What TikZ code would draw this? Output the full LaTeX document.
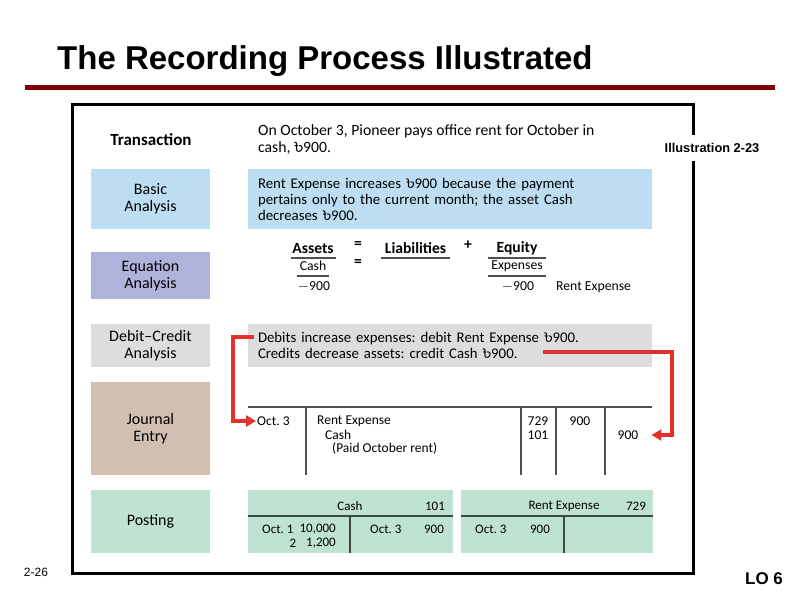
\documentclass[tikz,border=0pt]{standalone}
\usepackage{fontspec}
\setmainfont{Carlito}
\newfontfamily\arialf{Liberation Sans}
\newfontfamily\bnfont[Script=Bengali]{Hind Siliguri}
\newcommand\tk{{\bnfont ৳}}
\usetikzlibrary{arrows.meta}
\definecolor{maroonline}{HTML}{7F0000}
\definecolor{arrred}{HTML}{E4312B}
\definecolor{basicblue}{HTML}{BDDDF3}
\definecolor{eqpurple}{HTML}{AFB3DB}
\definecolor{dcgray}{HTML}{DCDDDE}
\definecolor{jetan}{HTML}{D3BFB2}
\definecolor{postgreen}{HTML}{BFE3D3}
\definecolor{ruleg}{HTML}{505050}
\definecolor{tline}{HTML}{3E4A44}
\frenchspacing
\begin{document}
\begin{tikzpicture}[x=1pt,y=-1pt,
  every node/.style={inner sep=0pt},
  txt/.style={font=\fontsize{15.7}{17}\selectfont},
  sm/.style={font=\fontsize{13.5}{13.5}\selectfont},
  tacc/.style={font=\fontsize{13}{13}\selectfont},
  eqb/.style={font=\fontsize{15.6}{16}\selectfont\bfseries},
  eqn/.style={font=\fontsize{13.7}{16}\selectfont},
  lab/.style={minimum width=119pt, align=center, font=\fontsize{16}{17}\selectfont},
  wide/.style={minimum width=404pt, text width=384pt, align=left, inner xsep=10pt, font=\fontsize{14.8}{16}\selectfont},
  rl/.style={line width=1.4pt, draw=ruleg},
  tl/.style={line width=1.4pt, draw=tline},
  ul/.style={line width=1.3pt, draw=ruleg},
  redarr/.style={draw=arrred, line width=3.5pt, -{Triangle[length=10pt,width=11pt]}},
]
\useasboundingbox (0,0) rectangle (800,600);
\fill[white] (0,0) rectangle (800,600);

% title and rule
\node[anchor=base west, font=\arialf\bfseries\fontsize{33}{36}\selectfont] (title) at (57,69) {The Recording Process Illustrated};
\draw[maroonline, line width=5pt] (25,87) -- (775,87);

% frame
\draw[black, line width=3pt] (72,104) rectangle (693,573);
\node[fill=white, minimum height=26pt, inner xsep=3pt, font=\arialf\bfseries\fontsize{12.8}{14}\selectfont] (illus) at (712,148) {Illustration 2-23};

\node[font=\arialf\fontsize{12}{14}\selectfont] (pg) at (36,572) {2-26};
\node[font=\arialf\bfseries\fontsize{17}{18}\selectfont] (lo) at (764,579) {LO 6};

% left column
\node[font=\fontsize{17}{17}\selectfont\bfseries] (trl) at (151,140) {Transaction};
\node[lab, fill=basicblue, minimum height=60pt] (bal) at (150.5,199) {Basic\\Analysis};
\node[lab, fill=eqpurple, minimum height=47pt] (eql) at (150.5,275.5) {Equation\\Analysis};
\node[lab, fill=dcgray, minimum height=43pt] (dcl) at (150.5,345.5) {Debit--Credit\\Analysis};
\node[lab, fill=jetan, minimum height=93pt] (jel) at (150.5,428.5) {Journal\\Entry};
\node[lab, fill=postgreen, minimum height=63pt] (pol) at (150.5,521.5) {Posting};

% transaction text
\node[txt, anchor=west, align=left] (trt) at (258,140) {On October 3, Pioneer pays office rent for October in\\cash, \tk900.};

% basic analysis
\node[wide, fill=basicblue, minimum height=60pt] (bab) at (450,199) {Rent Expense increases \tk900 because the payment\\pertains only to the current month; the asset Cash\\decreases \tk900.};

% equation analysis
\node[eqb] (assets) at (313,248) {Assets};
\node[eqb] (eq1) at (358,245) {=};
\node[eqb] (liab) at (415.5,248) {Liabilities};
\node[eqb] (plus) at (468,245) {+};
\node[eqb] (equity) at (517,248) {Equity};
\draw[ul] (290.5,258) -- (336,258);
\draw[ul] (381,258) -- (450,258);
\draw[ul] (488,258) -- (546,258);
\node[eqn] (cash) at (313,266) {Cash};
\node[eqb] (eq2) at (358,263) {=};
\node[eqn] (expn) at (517,266) {Expenses};
\draw[ul] (297,276) -- (329,276);
\draw[ul] (488,276) -- (546,276);
\node[eqn] (m1) at (314,287) {$-$900};
\node[eqn] (m2) at (518,287) {$-$900};
\node[eqn, anchor=west] (rexp) at (556,287) {Rent Expense};

% debit-credit analysis
\node[wide, fill=dcgray, minimum height=43pt] (dcb) at (450,345.5) {Debits increase expenses: debit Rent Expense \tk900.\\Credits decrease assets: credit Cash \tk900.};

% journal entry
\coordinate (jl) at (248,407);
\coordinate (jr) at (652,407);
\draw[rl] (jl) -- (jr);
\foreach \xx in {306,521,556,605} \draw[rl] (\xx,407) -- (\xx,475);
\node[sm, anchor=west] (oct) at (257,421) {Oct. 3};
\node[sm, anchor=west] (je1) at (317,421) {Rent Expense};
\node[sm, anchor=west] (je2) at (325,435) {Cash};
\node[sm, anchor=west] (je3) at (332,448) {(Paid October rent)};
\node[sm] (r729) at (538,421) {729};
\node[sm] (r101) at (538,435) {101};
\node[sm] (dr) at (580,421) {900};
\node[sm] (cr) at (628,435) {900};

% red arrows
\coordinate (a1s) at (254,337);
\coordinate (a2s) at (543,352);
\draw[redarr] (a1s) -- (233,337) |- ([xshift=-1pt]oct.west);
\draw[redarr] (a2s) -- (672,352) |- ([xshift=13pt]cr.east);

% posting: Cash T-account
\node[fill=postgreen, minimum width=205pt, minimum height=63pt] (cbox) at (350.5,521.5) {};
\draw[tl] (248,516) -- (453,516);
\draw[tl] (350,516) -- (350,553);
\node[tacc] (ch) at (350,506) {Cash};
\node[tacc] (c101) at (435,506) {101};
\node[tacc, anchor=west] (co1) at (262,529) {Oct. 1};
\node[tacc, anchor=east] (cv1) at (336,529) {10,000};
\node[tacc] (co2) at (293,543) {2};
\node[tacc, anchor=east] (cv2) at (336,543) {1,200};
\node[tacc, anchor=west] (co3) at (370,529) {Oct. 3};
\node[tacc] (cv3) at (434,529) {900};

% posting: Rent Expense T-account
\node[fill=postgreen, minimum width=192pt, minimum height=63pt] (rbox) at (557,521.5) {};
\draw[tl] (461,516) -- (653,516);
\draw[tl] (564,516) -- (564,553);
\node[tacc] (rh) at (564,506) {Rent Expense};
\node[tacc] (r729b) at (636,506) {729};
\node[tacc, anchor=west] (ro) at (475,529) {Oct. 3};
\node[tacc] (rv) at (540,529) {900};
\end{tikzpicture}
\end{document}
